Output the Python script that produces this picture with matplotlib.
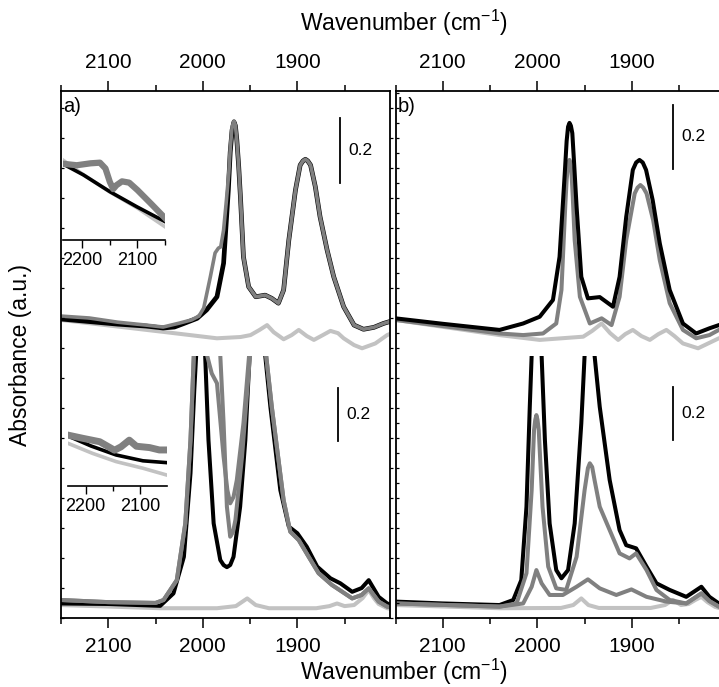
import matplotlib
matplotlib.use('Agg')
import matplotlib.pyplot as plt
from matplotlib.ticker import MultipleLocator

plt.rcParams['font.family'] = ['Liberation Sans', 'DejaVu Sans']

BLACK = '#000000'
GRAY = '#808080'
LIGHT = '#c2c2c2'

# ---- panel a, upper spectra (absorbance vs wavenumber) ----
a_up_black_wn = [2150, 2120, 2090, 2060, 2042, 2030, 2020, 2006, 1996, 1985,
                 1978, 1973, 1971, 1969, 1967, 1965.5, 1964, 1962, 1960, 1957,
                 1951.5, 1944, 1934, 1927, 1920, 1914.5, 1909, 1902, 1897, 1894,
                 1891.5, 1889, 1886, 1881, 1876, 1868.5, 1861.5, 1851, 1840, 1830,
                 1819, 1809, 1800]
a_up_black = [0.112, 0.104, 0.096, 0.090, 0.084, 0.087, 0.098, 0.114, 0.140, 0.181,
              0.285, 0.512, 0.630, 0.699, 0.724, 0.712, 0.668, 0.585, 0.481, 0.305,
              0.212, 0.181, 0.186, 0.176, 0.161, 0.202, 0.357, 0.512, 0.590, 0.603,
              0.608, 0.603, 0.590, 0.523, 0.430, 0.326, 0.243, 0.150, 0.093, 0.080,
              0.086, 0.098, 0.106]

a_up_gray_wn = [2150, 2120, 2090, 2060, 2042, 2025, 2012, 2004, 1999, 1992,
                1987, 1983.5, 1981, 1978, 1975, 1972.5, 1971, 1969, 1967, 1965.5,
                1964, 1962, 1960, 1957, 1951.5, 1944, 1934, 1927, 1920, 1914.5,
                1909, 1902, 1897, 1894, 1891.5, 1889, 1886, 1881, 1876, 1868.5,
                1861.5, 1851, 1840, 1830, 1819, 1809, 1800]
a_up_gray = [0.121, 0.115, 0.102, 0.093, 0.087, 0.099, 0.109, 0.121, 0.146, 0.243,
             0.317, 0.332, 0.336, 0.388, 0.481, 0.565, 0.640, 0.709, 0.727, 0.714,
             0.668, 0.585, 0.481, 0.305, 0.212, 0.181, 0.186, 0.176, 0.161, 0.202,
             0.357, 0.512, 0.590, 0.603, 0.608, 0.603, 0.590, 0.523, 0.430, 0.326,
             0.243, 0.150, 0.093, 0.080, 0.086, 0.098, 0.106]

a_up_light_wn = [2150, 2100, 2042, 1985, 1960, 1949.5, 1940, 1932, 1925, 1914.5,
                 1906, 1898.5, 1890, 1882.5, 1873, 1865, 1857, 1851, 1840, 1831.5,
                 1817.5, 1805, 1800]
a_up_light = [0.109, 0.092, 0.072, 0.052, 0.056, 0.062, 0.078, 0.093, 0.071, 0.049,
              0.062, 0.078, 0.059, 0.047, 0.062, 0.075, 0.068, 0.052, 0.031, 0.021,
              0.036, 0.062, 0.068]

# ---- panel a, lower spectra ----
a_lo_black_wn = [2150, 2100, 2045, 2031, 2020, 2013, 2009, 2007, 2002, 1997.5,
                 1994, 1988.5, 1981.5, 1978, 1974.5, 1971, 1967.5, 1960.5, 1955, 1950.5,
                 1942, 1934, 1928.5, 1918, 1909, 1900, 1890, 1879, 1865, 1854.5,
                 1842, 1832, 1824.5, 1814, 1805, 1800]
a_lo_black = [0.055, 0.053, 0.046, 0.093, 0.231, 0.547, 0.860, 0.992, 1.6, 0.992,
              0.672, 0.357, 0.219, 0.200, 0.192, 0.200, 0.231, 0.420, 0.672, 0.992,
              1.5, 0.992, 0.797, 0.483, 0.345, 0.320, 0.269, 0.194, 0.150, 0.131,
              0.099, 0.113, 0.143, 0.080, 0.055, 0.049]

a_lo_gray1_wn = [2150, 2100, 2050, 2041.5, 2027.5, 2018.5, 2013, 2009.5, 2003, 1995.5,
                 1990.5, 1985, 1978, 1974, 1971, 1967.5, 1964, 1957, 1951, 1942,
                 1933, 1927, 1914.5, 1907.5, 1898.5, 1888, 1877.5, 1863.5, 1852.5, 1842,
                 1832, 1824.5, 1814, 1805, 1800]
a_lo_gray1 = [0.068, 0.060, 0.057, 0.068, 0.143, 0.357, 0.672, 0.992, 1.6, 0.992,
              0.923, 0.886, 0.609, 0.483, 0.433, 0.457, 0.521, 0.735, 0.992, 1.5,
              0.992, 0.797, 0.445, 0.326, 0.294, 0.231, 0.169, 0.125, 0.099, 0.074,
              0.087, 0.112, 0.062, 0.043, 0.040]

a_lo_gray2_wn = [2150, 2100, 2050, 2041.5, 2027.5, 2018.5, 2013, 2009.5, 1995, 1981.5,
                 1978, 1974.5, 1971, 1968, 1965.5, 1958.5, 1950, 1942, 1933, 1927,
                 1914.5, 1907.5, 1898.5, 1888, 1877.5, 1863.5, 1852.5, 1842, 1832, 1824.5,
                 1814, 1805, 1800]
a_lo_gray2 = [0.068, 0.060, 0.057, 0.068, 0.143, 0.357, 0.672, 0.992, 1.6, 0.992,
              0.736, 0.420, 0.307, 0.325, 0.370, 0.609, 0.992, 1.5, 0.992, 0.797,
              0.445, 0.326, 0.294, 0.231, 0.169, 0.125, 0.099, 0.074, 0.087, 0.112,
              0.062, 0.043, 0.040]

a_lo_light_wn = [2150, 2045, 1985, 1965, 1953, 1944, 1930, 1880, 1866, 1858,
                 1850, 1840, 1831, 1824.5, 1819, 1814, 1805, 1800]
a_lo_light = [0.049, 0.037, 0.037, 0.045, 0.074, 0.049, 0.037, 0.037, 0.045, 0.055,
              0.045, 0.049, 0.075, 0.106, 0.075, 0.053, 0.037, 0.034]

# ---- panel a insets (high wavenumber range) ----
ins_up_black_wn = [2235, 2198, 2150, 2101, 2050]
ins_up_black = [0.236, 0.202, 0.150, 0.103, 0.057]
ins_up_light_wn = [2235, 2200, 2150, 2100, 2050]
ins_up_light = [0.248, 0.205, 0.149, 0.099, 0.041]
ins_up_gray_wn = [2232, 2210, 2185, 2168, 2158, 2150, 2144, 2138, 2128, 2115, 2100, 2075, 2050]
ins_up_gray = [0.236, 0.232, 0.238, 0.240, 0.222, 0.180, 0.158, 0.170, 0.182, 0.178, 0.155, 0.112, 0.068]

ins_lo_black_wn = [2229, 2190, 2144, 2095, 2051]
ins_lo_black = [0.185, 0.150, 0.116, 0.094, 0.087]
ins_lo_light_wn = [2232, 2187, 2144, 2095, 2051]
ins_lo_light = [0.160, 0.122, 0.091, 0.066, 0.040]
ins_lo_gray_wn = [2232, 2205, 2174, 2147, 2135, 2120, 2107, 2083, 2065, 2051]
ins_lo_gray = [0.191, 0.179, 0.166, 0.134, 0.147, 0.172, 0.149, 0.144, 0.135, 0.135]

# ---- panel b, upper spectra ----
b_up_black_wn = [2150, 2100, 2040, 2015, 1997.5, 1983.5, 1976.5, 1971, 1969, 1967.5,
                 1966, 1964.5, 1963, 1961, 1958.5, 1953.5, 1946.5, 1934, 1920, 1913,
                 1906, 1899, 1895.5, 1892, 1888.5, 1885, 1878, 1870.5, 1860, 1846,
                 1832, 1818, 1808, 1800]
b_up_black = [0.114, 0.097, 0.078, 0.098, 0.119, 0.171, 0.305, 0.564, 0.665, 0.709,
              0.721, 0.712, 0.689, 0.590, 0.461, 0.243, 0.176, 0.180, 0.150, 0.243,
              0.429, 0.575, 0.598, 0.606, 0.598, 0.575, 0.481, 0.347, 0.202, 0.098,
              0.067, 0.083, 0.093, 0.099]

b_up_gray_wn = [2150, 2100, 2040, 2015, 1994, 1980, 1974.5, 1970.5, 1969, 1967.5,
                1966, 1964, 1962.5, 1960.5, 1955, 1944.5, 1932, 1921.5, 1913, 1906,
                1897, 1894, 1891, 1888, 1884.5, 1877.5, 1870.5, 1860, 1846, 1832,
                1818, 1808, 1800]
b_up_gray = [0.109, 0.090, 0.067, 0.062, 0.067, 0.098, 0.202, 0.461, 0.545, 0.590,
             0.606, 0.575, 0.490, 0.357, 0.181, 0.098, 0.114, 0.093, 0.181, 0.357,
             0.502, 0.520, 0.528, 0.520, 0.502, 0.419, 0.295, 0.161, 0.078, 0.052,
             0.062, 0.078, 0.084]

b_up_light_wn = [2150, 2040, 1997.5, 1951.5, 1942, 1932, 1923, 1914.5, 1907, 1899,
                 1890, 1881, 1872, 1863.5, 1855, 1846, 1830, 1808, 1800]
b_up_light = [0.109, 0.062, 0.047, 0.057, 0.075, 0.098, 0.068, 0.047, 0.065, 0.078,
              0.059, 0.047, 0.065, 0.078, 0.059, 0.036, 0.021, 0.052, 0.059]

# ---- panel b, lower spectra ----
b_lo_black_wn = [2150, 2100, 2040, 2025.5, 2017, 2011.5, 2008, 2006, 2001, 1995.5,
                 1992, 1987, 1980, 1974.5, 1967.5, 1960.5, 1953.5, 1950, 1945, 1939.5,
                 1934, 1923.5, 1913, 1906, 1895.5, 1884.5, 1874, 1860, 1842.5, 1826.5,
                 1818, 1808, 1800]
b_lo_black = [0.062, 0.055, 0.049, 0.068, 0.143, 0.420, 0.797, 0.992, 1.5, 0.992,
              0.672, 0.357, 0.181, 0.150, 0.181, 0.357, 0.735, 0.992, 1.3, 0.992,
              0.797, 0.521, 0.332, 0.275, 0.263, 0.194, 0.131, 0.106, 0.080, 0.118,
              0.080, 0.055, 0.049]

b_lo_gray1_wn = [2150, 2040, 2022, 2011.5, 2006, 2003.5, 2002.2, 2001, 1999.8, 1998.5,
                 1994.5, 1988.5, 1980, 1969.5, 1958.5, 1950, 1946.5, 1944.5, 1942, 1939.5,
                 1934, 1923.5, 1913, 1902.5, 1895.5, 1884.5, 1874, 1860, 1842.5, 1826.5,
                 1818, 1808, 1800]
b_lo_gray1 = [0.055, 0.043, 0.055, 0.169, 0.483, 0.709, 0.748, 0.766, 0.748, 0.709,
              0.420, 0.194, 0.112, 0.106, 0.231, 0.483, 0.566, 0.584, 0.570, 0.521,
              0.420, 0.332, 0.244, 0.225, 0.244, 0.181, 0.106, 0.068, 0.055, 0.093,
              0.064, 0.043, 0.040]

b_lo_gray2_wn = [2150, 2040, 2015, 2006, 2001, 1995.5, 1987, 1973, 1958.5, 1946.5,
                 1934, 1916.5, 1900.5, 1884.5, 1863.5, 1842.5, 1826.5, 1818, 1808, 1800]
b_lo_gray2 = [0.055, 0.043, 0.055, 0.118, 0.181, 0.131, 0.087, 0.087, 0.118, 0.146,
              0.112, 0.087, 0.108, 0.080, 0.062, 0.055, 0.093, 0.064, 0.043, 0.040]

b_lo_light_wn = [2150, 2040, 1975, 1962, 1953.5, 1946, 1935, 1880, 1865, 1856.5,
                 1848, 1840, 1833, 1826.5, 1820, 1812, 1800]
b_lo_light = [0.049, 0.037, 0.038, 0.049, 0.074, 0.049, 0.038, 0.038, 0.049, 0.068,
              0.049, 0.053, 0.068, 0.080, 0.060, 0.042, 0.030]

# scale bars: (wavenumber, bar start), length 0.2
bar_len = 0.2
bars = {'a_up': (1854.5, 0.535), 'a_lo': (1857.5, 0.670),
        'b_up': (1856.5, 0.578), 'b_lo': (1857.0, 0.672)}

fig = plt.figure(figsize=(7.19, 6.87), dpi=100)

W = 0.4576
FRAME_B, FRAME_H = 0.1004, 0.7671
UP_B, UP_H = 0.4818, 0.3857
LO_B, LO_H = 0.1004, 0.3814


def make_panel(left, tag, ystep, right_ticks):
    frame = fig.add_axes([left, FRAME_B, W, FRAME_H])
    frame.set_facecolor('none')
    frame.set_zorder(3)
    frame.set_xlim(2150, 1802)
    frame.set_ylim(0, 527)
    for s in frame.spines.values():
        s.set_linewidth(1.3)
    frame.xaxis.set_major_locator(MultipleLocator(100))
    frame.xaxis.set_minor_locator(MultipleLocator(50))
    frame.tick_params(axis='x', which='both', direction='out', top=True, bottom=True,
                      labeltop=True, labelbottom=True, labelsize=15, pad=7, width=1.1)
    frame.tick_params(axis='x', which='major', length=7)
    frame.tick_params(axis='x', which='minor', length=4)
    frame.yaxis.set_major_locator(MultipleLocator(ystep))
    frame.tick_params(axis='y', which='major', direction='in', left=True, right=False,
                      labelleft=False, length=2.5, width=0.9)
    if right_ticks:
        tw = frame.twinx()
        tw.set_ylim(0, 527)
        tw.yaxis.set_major_locator(MultipleLocator(ystep))
        tw.tick_params(axis='y', direction='out', labelright=False, length=2.5, width=0.9)
        for s in tw.spines.values():
            s.set_visible(False)
    frame.text(0.006, 0.971, tag, transform=frame.transAxes, ha='left', va='center',
               fontsize=14.5)

    upper = fig.add_axes([left, UP_B, W, UP_H])
    upper.set_xlim(2150, 1802)
    upper.set_ylim(-0.003, 0.820)
    upper.axis('off')
    lower = fig.add_axes([left, LO_B, W, LO_H])
    lower.set_xlim(2150, 1802)
    lower.set_ylim(0, 0.989)
    lower.axis('off')
    return frame, upper, lower


def scale_bar(ax, key):
    x, y0 = bars[key]
    ax.plot([x, x], [y0, y0 + bar_len], color=BLACK, lw=1.3)
    ax.text(x - 9, y0 + bar_len / 2, '%.1f' % bar_len, ha='left', va='center',
            fontsize=12.5)


def inset(rect, xlim, ylim):
    ax = fig.add_axes(rect)
    ax.set_facecolor('none')
    ax.set_zorder(4)
    ax.set_xlim(*xlim)
    ax.set_ylim(*ylim)
    for side in ('top', 'right', 'left'):
        ax.spines[side].set_visible(False)
    ax.spines['bottom'].set_linewidth(1.2)
    ax.set_yticks([])
    ax.xaxis.set_major_locator(MultipleLocator(100))
    ax.xaxis.set_minor_locator(MultipleLocator(50))
    ax.tick_params(axis='x', which='both', direction='out', labelsize=13, pad=3, width=1.0)
    ax.tick_params(axis='x', which='major', length=6)
    ax.tick_params(axis='x', which='minor', length=3.5)
    return ax


LW = 2.9

# panel a
fa, ua, la = make_panel(0.0848, 'a)', 30, True)
ua.plot(a_up_light_wn, a_up_light, color=LIGHT, lw=LW)
ua.plot(a_up_black_wn, a_up_black, color=BLACK, lw=LW + 0.5)
ua.plot(a_up_gray_wn, a_up_gray, color=GRAY, lw=LW - 0.3)
scale_bar(ua, 'a_up')

la.plot(a_lo_light_wn, a_lo_light, color=LIGHT, lw=LW)
la.plot(a_lo_black_wn, a_lo_black, color=BLACK, lw=LW)
la.plot(a_lo_gray1_wn, a_lo_gray1, color=GRAY, lw=LW)
la.plot(a_lo_gray2_wn, a_lo_gray2, color=GRAY, lw=LW)
scale_bar(la, 'a_lo')

iu = inset([0.0876, 0.6507, 0.1419, 0.1383], (2235, 2050), (0, 0.295))
iu.plot(ins_up_light_wn, ins_up_light, color=LIGHT, lw=2.6)
iu.plot(ins_up_black_wn, ins_up_black, color=BLACK, lw=2.6)
iu.plot(ins_up_gray_wn, ins_up_gray, color=GRAY, lw=4.5)

il = inset([0.0946, 0.2930, 0.1377, 0.0956], (2232, 2051), (0, 0.248))
il.plot(ins_lo_light_wn, ins_lo_light, color=LIGHT, lw=2.6)
il.plot(ins_lo_black_wn, ins_lo_black, color=BLACK, lw=2.6)
il.plot(ins_lo_gray_wn, ins_lo_gray, color=GRAY, lw=5)

# panel b (runs past the right edge of the figure)
fb, ub, lb = make_panel(0.5501, 'b)', 15, False)
ub.plot(b_up_light_wn, b_up_light, color=LIGHT, lw=LW)
ub.plot(b_up_gray_wn, b_up_gray, color=GRAY, lw=LW)
ub.plot(b_up_black_wn, b_up_black, color=BLACK, lw=LW)
scale_bar(ub, 'b_up')

lb.plot(b_lo_light_wn, b_lo_light, color=LIGHT, lw=LW)
lb.plot(b_lo_black_wn, b_lo_black, color=BLACK, lw=LW)
lb.plot(b_lo_gray1_wn, b_lo_gray1, color=GRAY, lw=LW)
lb.plot(b_lo_gray2_wn, b_lo_gray2, color=GRAY, lw=LW)
scale_bar(lb, 'b_lo')

xlabel = 'Wavenumber (cm$^{\\mathregular{-1}}$)'
fig.text(0.562, 0.966, xlabel, ha='center', va='center', fontsize=16.5)
fig.text(0.562, 0.022, xlabel, ha='center', va='center', fontsize=16.5)
fig.text(0.028, 0.483, 'Absorbance (a.u.)', ha='center', va='center', rotation=90,
         fontsize=16.5)

fig.savefig('out.png', dpi=100)
